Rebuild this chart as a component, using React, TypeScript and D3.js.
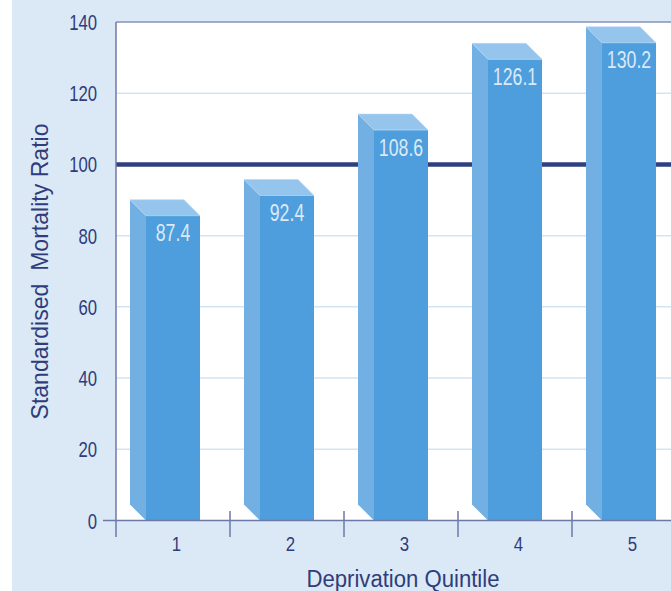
import React from "react";
import * as d3 from "d3";

// Standardised mortality ratio by deprivation quintile
const quintiles = ["1", "2", "3", "4", "5"];
const smrValues = [87.4, 92.4, 108.6, 126.1, 130.2];
const yTicks = [0, 20, 40, 60, 80, 100, 120, 140];
const gridValues = [20, 40, 60, 80, 120];
const referenceValue = 100;

const W = 671;
const H = 591;
const FONT = "'Liberation Sans', Arial, sans-serif";
const NAVY = "#2f3d7a";
const AXIS = "#6c78a8";

const plot = { left: 116, top: 22, bottom: 520.5, right: 686 };
const DEPTH = 16;

export default function App() {
  const y = d3.scaleLinear().domain([0, 140]).range([plot.bottom, plot.top]);
  // 3-D columns are projected onto their own perspective scale (front face top)
  const yFront = d3.scaleLinear().domain([0, 140]).range([568.8, 3.2]);
  const x = d3.scaleBand<string>().domain(quintiles).range([plot.left, plot.right]).padding(0);
  const bw = x.bandwidth();

  const bars = quintiles.map((q, i) => {
    const v = smrValues[i];
    const fx0 = (x(q) as number) + 30;
    const fx1 = fx0 + 54;
    const ft = yFront(v);
    const fb = plot.bottom;
    return { q, v, fx0, fx1, ft, fb };
  });

  return (
    <svg
      width={W}
      height={H}
      style={{ position: "absolute", left: 0, top: 0, background: "#fff" }}
      fontFamily={FONT}
    >
      {/* panel background */}
      <rect x={12} y={0} width={W - 12} height={H} fill="#dbe9f6" />
      {/* plot area */}
      <rect x={plot.left} y={plot.top} width={W - plot.left} height={plot.bottom - plot.top} fill="#ffffff" />

      {/* gridlines */}
      {gridValues.map((g) => (
        <line key={g} x1={plot.left} x2={W} y1={y(g)} y2={y(g)} stroke="#d3e4f4" strokeWidth={1.5} />
      ))}
      {/* top border */}
      <line x1={plot.left} x2={W} y1={plot.top} y2={plot.top} stroke="#8792bb" strokeWidth={1.5} />

      {/* reference line */}
      <line
        x1={plot.left}
        x2={W}
        y1={y(referenceValue)}
        y2={y(referenceValue)}
        stroke="#2f3f80"
        strokeWidth={4.5}
      />

      {/* columns */}
      {bars.map((b) => (
        <g key={b.q}>
          <polygon
            points={`${b.fx0},${b.ft} ${b.fx0 - DEPTH},${b.ft - DEPTH} ${b.fx0 - DEPTH},${b.fb - DEPTH} ${b.fx0},${b.fb}`}
            fill="#72b0e3"
          />
          <polygon
            points={`${b.fx0},${b.ft} ${b.fx0 - DEPTH},${b.ft - DEPTH} ${b.fx1 - DEPTH},${b.ft - DEPTH} ${b.fx1},${b.ft}`}
            fill="#95c5ec"
            stroke="#b4d7f3"
            strokeWidth={0.6}
          />
          <rect x={b.fx0} y={b.ft} width={b.fx1 - b.fx0} height={b.fb - b.ft} fill="#4e9edd" />
          <line x1={b.fx0} x2={b.fx1} y1={b.ft} y2={b.ft} stroke="#a9d0f1" strokeWidth={0.8} />
          <text
            transform={`translate(${(b.fx0 + b.fx1) / 2},${b.ft + 25.5}) scale(0.77,1)`}
            textAnchor="middle"
            fontSize={23}
            fill="#dce9f6"
          >
            {b.v.toFixed(1)}
          </text>
        </g>
      ))}

      {/* axes */}
      <line x1={plot.left} x2={plot.left} y1={plot.top} y2={537} stroke={AXIS} strokeWidth={1.5} />
      <line x1={103} x2={W} y1={plot.bottom} y2={plot.bottom} stroke={AXIS} strokeWidth={1.5} />
      {quintiles.slice(1).map((q) => (
        <line key={q} x1={x(q) as number} x2={x(q) as number} y1={511} y2={537} stroke={AXIS} strokeWidth={1.5} />
      ))}

      {/* y tick labels */}
      {yTicks.map((t) => (
        <text
          key={t}
          transform={`translate(97,${y(t) + 8}) scale(0.76,1)`}
          textAnchor="end"
          fontSize={22}
          fill={NAVY}
        >
          {t}
        </text>
      ))}

      {/* x tick labels */}
      {quintiles.map((q) => (
        <text
          key={q}
          transform={`translate(${(x(q) as number) + bw / 2 + 3.5},551) scale(0.8,1)`}
          textAnchor="middle"
          fontSize={21}
          fill={NAVY}
        >
          {q}
        </text>
      ))}

      {/* axis titles */}
      <text
        transform="translate(48,271.5) rotate(-90)"
        textAnchor="middle"
        fontSize={24}
        fill={NAVY}
        textLength={296}
        lengthAdjust="spacingAndGlyphs"
        style={{ whiteSpace: "pre" }}
      >
        {"Standardised  Mortality Ratio"}
      </text>
      <text
        x={403}
        y={586.7}
        textAnchor="middle"
        fontSize={23}
        fill={NAVY}
        textLength={193}
        lengthAdjust="spacingAndGlyphs"
      >
        Deprivation Quintile
      </text>
    </svg>
  );
}
